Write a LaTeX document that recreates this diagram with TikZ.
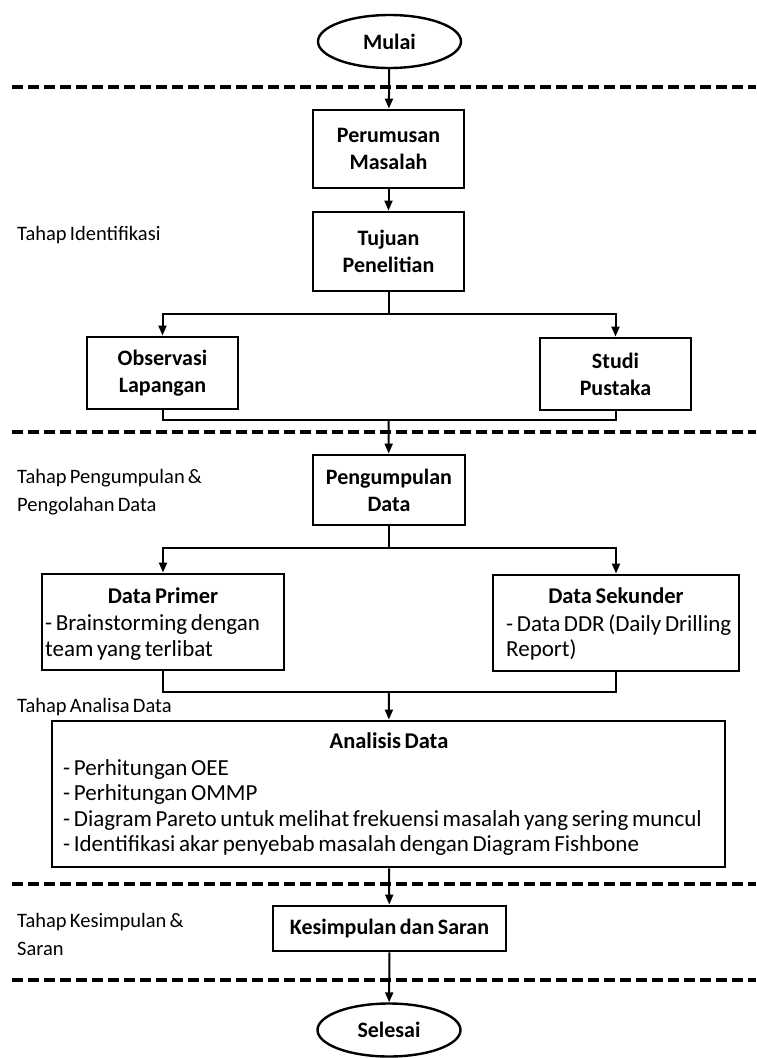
\documentclass[tikz,border=0pt]{standalone}
\usepackage{fontspec}
\setmainfont{Carlito}[WordSpace=0.7]
\usetikzlibrary{shapes.geometric,arrows.meta}

\begin{document}
\begin{tikzpicture}[x=1pt,y=-1pt,
    kotak/.style={draw,line width=2.9pt,align=center,inner sep=0pt,
        font=\bfseries\fontsize{22}{27}\selectfont},
    bingkai/.style={draw,line width=2.9pt,inner sep=0pt},
    judul/.style={inner sep=0pt,font=\bfseries\fontsize{22.5}{26}\selectfont},
    isi/.style={anchor=west,align=left,inner sep=0pt,
        font=\fontsize{23}{25.5}\selectfont},
    terminal/.style={draw,ellipse,line width=2.4pt,inner sep=0pt,
        minimum width=143pt,minimum height=53pt,
        font=\bfseries\fontsize{22}{26}\selectfont},
    tahap/.style={anchor=west,align=left,inner sep=0pt,
        font=\fontsize{20.5}{28}\selectfont},
    panah/.style={-{Triangle[length=10pt,width=8pt]},line width=2pt},
    garis/.style={line width=2pt},
    sekat/.style={line width=3.3pt,dash pattern=on 11pt off 5pt}]
\useasboundingbox (0,0) rectangle (756,1058);

% terminal
\node[terminal] (mulai) at (389.5,41.5) {Mulai};
\node[terminal] (selesai) at (389,1030) {Selesai};

% tahap identifikasi
\node[kotak,minimum width=151pt,minimum height=78pt] (rumusan) at (388.5,149) {Perumusan\\Masalah};
\node[kotak,minimum width=151pt,minimum height=79pt] (tujuan) at (388.5,251.5) {Tujuan\\Penelitian};
\node[kotak,minimum width=151pt,minimum height=72pt] (observasi) at (162.5,373) {Observasi\\Lapangan};
\node[kotak,minimum width=151pt,minimum height=72pt] (studi) at (615.5,374) {Studi\\Pustaka};

% pengumpulan & pengolahan
\node[kotak,minimum width=152pt,minimum height=70pt] (kumpul) at (389,490) {Pengumpulan\\Data};

\node[bingkai,minimum width=242pt,minimum height=96pt] (primer) at (163,622) {};
\node[judul] (primerJudul) at (163,596) {Data Primer};
\node[isi] (primerIsi) at (45,637.5) {- Brainstorming dengan\\team yang terlibat};

\node[bingkai,minimum width=246pt,minimum height=96pt] (sekunder) at (616,623) {};
\node[judul] (sekunderJudul) at (616,596) {Data Sekunder};
\node[isi] (sekunderIsi) at (506,637.5) {- Data DDR (Daily Drilling\\Report)};

% analisa
\node[bingkai,minimum width=673pt,minimum height=146pt] (analisis) at (388.5,794) {};
\node[judul] (analisisJudul) at (389,741) {Analisis Data};
\node[isi] (analisisIsi) at (63,807.5) {- Perhitungan OEE\\
    - Perhitungan OMMP\\
    - Diagram Pareto untuk melihat frekuensi masalah yang sering muncul\\
    - Identifikasi akar penyebab masalah dengan Diagram Fishbone};

% kesimpulan
\node[kotak,minimum width=233pt,minimum height=45pt] (simpul) at (389.5,928.5) {Kesimpulan dan Saran};

% label tahap
\node[tahap] (tIdentifikasi) at (17,235) {Tahap Identifikasi};
\node[tahap] (tKumpul) at (17,492) {Tahap Pengumpulan \&\\Pengolahan Data};
\node[tahap] (tAnalisa) at (17,707) {Tahap Analisa Data};
\node[tahap] (tSimpul) at (17,934) {Tahap Kesimpulan \&\\Saran};

% garis pemisah
\draw[sekat] (12,87) -- (756,87)
             (12,432) -- (756,432)
             (12,884) -- (756,884)
             (12,980) -- (756,980);

\coordinate (cabang1) at (tujuan.south |- 0,314);
\coordinate (gabung1) at (tujuan.south |- 0,420);
\coordinate (cabang2) at (kumpul.south |- 0,548);
\coordinate (gabung2) at (kumpul.south |- 0,692);

\draw[panah] (mulai) -- (rumusan);
\draw[panah] (rumusan) -- (tujuan);
\draw[garis] (tujuan) -- (cabang1);
\draw[panah] (cabang1) -| (observasi);
\draw[panah] (cabang1) -| (studi);
\draw[garis] (observasi) |- (gabung1) -| (studi);
\draw[panah] (gabung1) -- (kumpul);
\draw[garis] (kumpul) -- (cabang2);
\draw[panah] (cabang2) -| (primer);
\draw[panah] (cabang2) -| (sekunder);
\draw[garis] (primer) |- (gabung2) -| (sekunder);
\draw[panah] (gabung2) -- (analisis);
\draw[panah] (analisis) -- (simpul);
\draw[panah] (simpul) -- (selesai);
\end{tikzpicture}
\end{document}
